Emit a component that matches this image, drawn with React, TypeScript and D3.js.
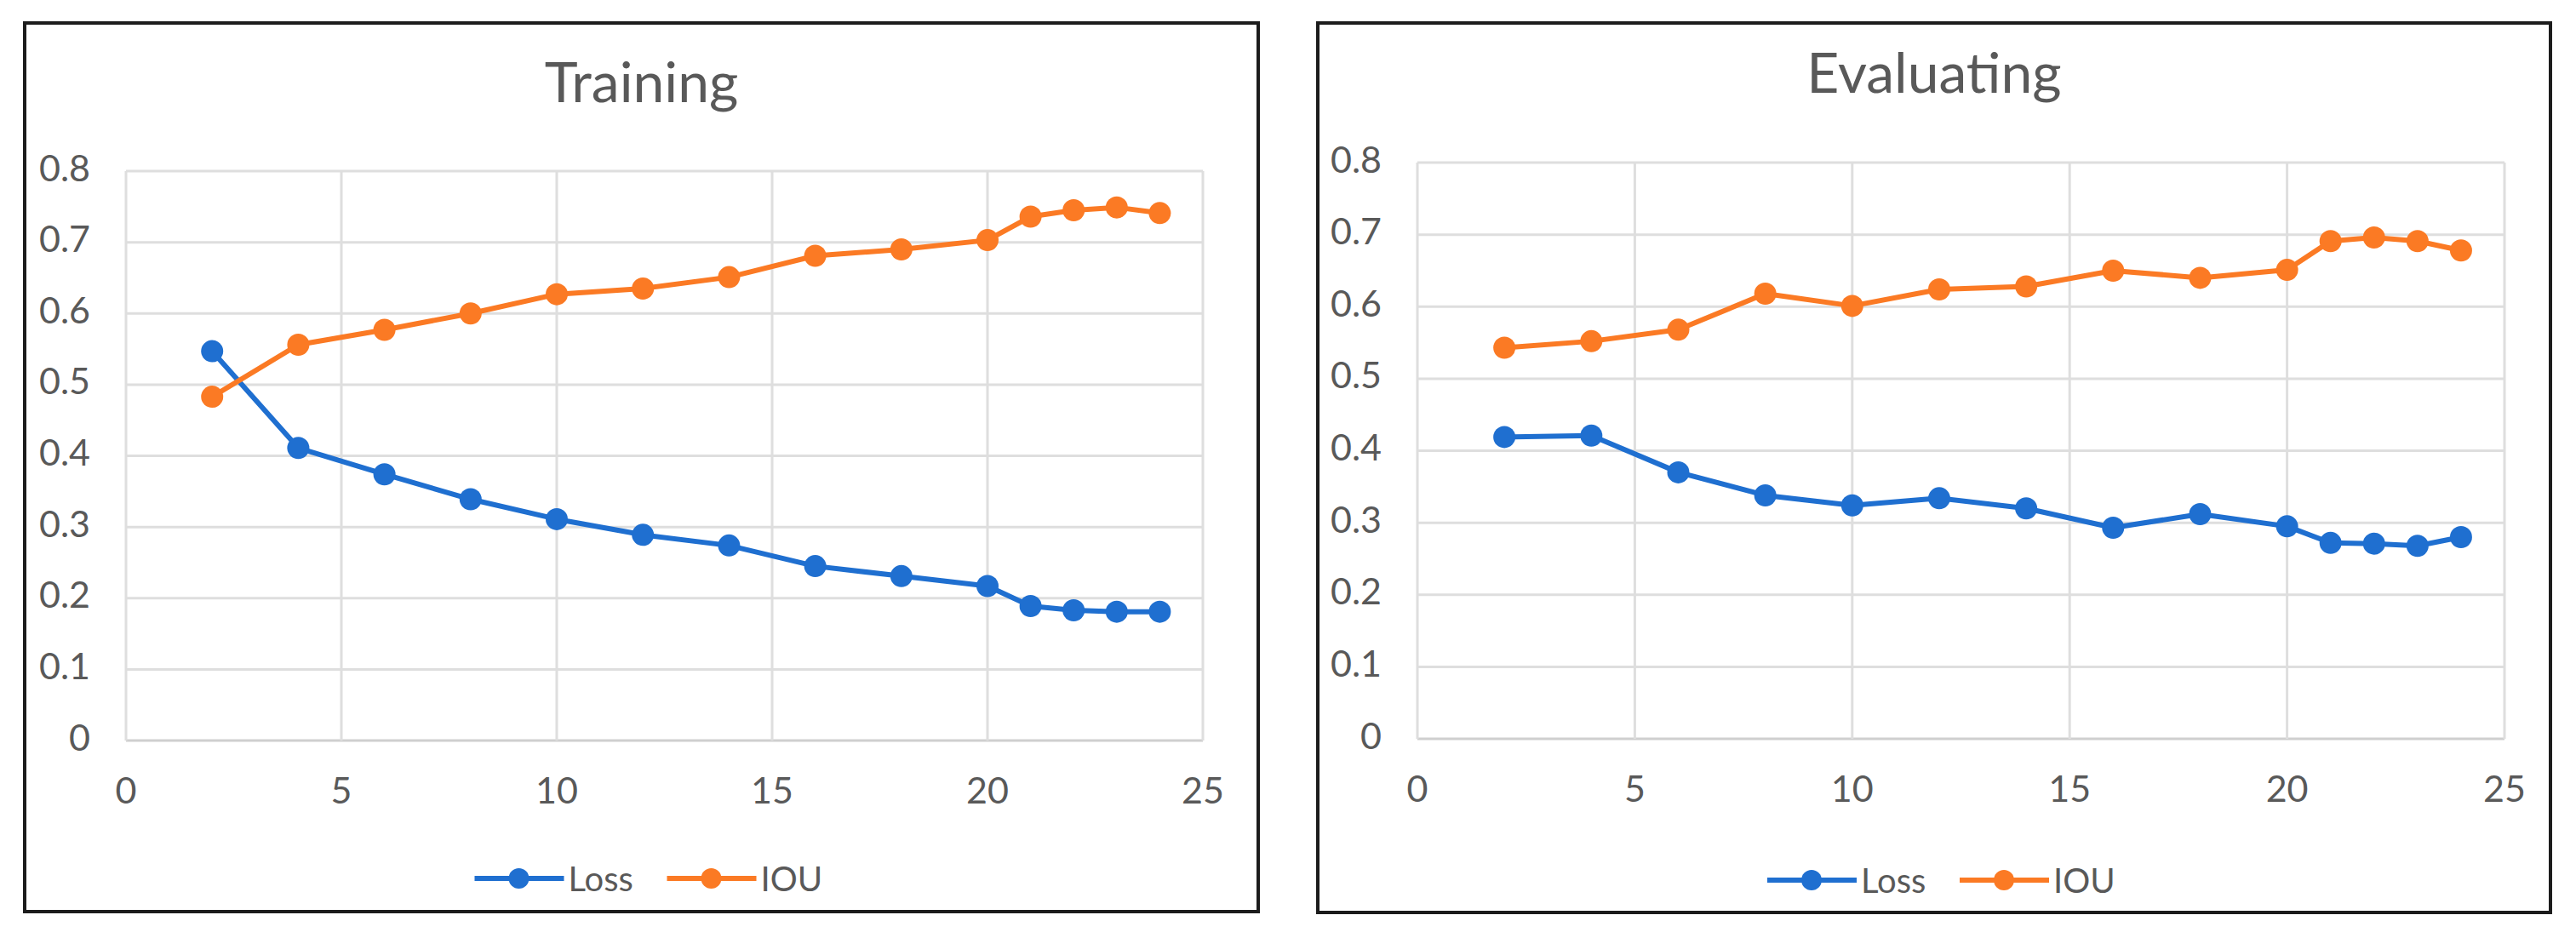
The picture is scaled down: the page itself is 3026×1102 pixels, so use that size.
import * as d3 from "d3";
import { useEffect, useRef } from "react";

const epochs = [2, 4, 6, 8, 10, 12, 14, 16, 18, 20, 21, 22, 23, 24];

const trainLoss = [0.547, 0.411, 0.374, 0.339, 0.311, 0.289, 0.274, 0.245, 0.231, 0.217, 0.189, 0.183, 0.181, 0.181];
const trainIou = [0.483, 0.556, 0.577, 0.6, 0.627, 0.635, 0.651, 0.681, 0.69, 0.703, 0.736, 0.745, 0.749, 0.741];

const evalLoss = [0.419, 0.421, 0.37, 0.338, 0.324, 0.334, 0.32, 0.293, 0.312, 0.295, 0.272, 0.271, 0.268, 0.28];
const evalIou = [0.543, 0.552, 0.568, 0.618, 0.601, 0.624, 0.628, 0.65, 0.64, 0.651, 0.691, 0.696, 0.691, 0.678];

const xTicks = [0, 5, 10, 15, 20, 25];
const yTicks = [0, 0.1, 0.2, 0.3, 0.4, 0.5, 0.6, 0.7, 0.8];

const seriesNames = ["Loss", "IOU"];
const colors = ["#1f6fd0", "#fb7a24"];

const FONT = "Lato, 'Open Sans', sans-serif";
const TEXT = "#595959";

type Box = { x0: number; y0: number; x1: number; y1: number };

type PanelProps = {
  title: string;
  loss: number[];
  iou: number[];
  frame: Box;
  plot: Box;
  titleY: number;
  legendY: number;
};

const Panel: React.FC<PanelProps> = ({ title, loss, iou, frame, plot, titleY, legendY }) => {
  const ref = useRef<SVGGElement | null>(null);

  useEffect(() => {
    if (!ref.current) return;
    const g = d3.select(ref.current);
    g.selectAll("*").remove();

    const x = d3.scaleLinear().domain([0, 25]).range([plot.x0, plot.x1]);
    const y = d3.scaleLinear().domain([0, 0.8]).range([plot.y1, plot.y0]);

    // outer frame
    g.append("rect")
      .attr("x", frame.x0)
      .attr("y", frame.y0)
      .attr("width", frame.x1 - frame.x0)
      .attr("height", frame.y1 - frame.y0)
      .attr("fill", "#fff")
      .attr("stroke", "#1c1c1c")
      .attr("stroke-width", 4);

    const cx = (frame.x0 + frame.x1) / 2;

    g.append("text")
      .attr("x", cx)
      .attr("y", titleY)
      .attr("text-anchor", "middle")
      .attr("font-family", FONT)
      .attr("font-size", 66)
      .attr("fill", TEXT)
      .text(title);

    // grid
    g.append("g")
      .selectAll("line")
      .data(yTicks)
      .join("line")
      .attr("x1", plot.x0)
      .attr("x2", plot.x1)
      .attr("y1", (d) => y(d))
      .attr("y2", (d) => y(d))
      .attr("stroke", (d) => (d === 0 ? "#cfcfcf" : "#dedede"))
      .attr("stroke-width", 3);

    g.append("g")
      .selectAll("line")
      .data(xTicks)
      .join("line")
      .attr("x1", (d) => x(d))
      .attr("x2", (d) => x(d))
      .attr("y1", plot.y0)
      .attr("y2", plot.y1)
      .attr("stroke", "#dedede")
      .attr("stroke-width", 3);

    // tick labels
    g.append("g")
      .selectAll("text")
      .data(yTicks)
      .join("text")
      .attr("x", plot.x0 - 42)
      .attr("y", (d) => y(d) - 5)
      .attr("dominant-baseline", "central")
      .attr("text-anchor", "end")
      .attr("font-family", FONT)
      .attr("font-size", 43)
      .attr("fill", TEXT)
      .text((d) => d3.format("")(+d.toFixed(1)));

    g.append("g")
      .selectAll("text")
      .data(xTicks)
      .join("text")
      .attr("x", (d) => x(d))
      .attr("y", plot.y1 + 57)
      .attr("dominant-baseline", "central")
      .attr("text-anchor", "middle")
      .attr("font-family", FONT)
      .attr("font-size", 43)
      .attr("fill", TEXT)
      .text((d) => String(d));

    const line = d3
      .line<number>()
      .x((_, i) => x(epochs[i]))
      .y((d) => y(d));

    [loss, iou].forEach((vals, k) => {
      const s = g.append("g");
      s.append("path")
        .attr("d", line(vals) ?? "")
        .attr("fill", "none")
        .attr("stroke", colors[k])
        .attr("stroke-width", 6)
        .attr("stroke-linejoin", "round");
      s.selectAll("circle")
        .data(vals)
        .join("circle")
        .attr("cx", (_, i) => x(epochs[i]))
        .attr("cy", (d) => y(d))
        .attr("r", 13)
        .attr("fill", colors[k]);
    });

    // legend
    const legend = g.append("g");
    const lx = cx - 196;
    seriesNames.forEach((name, k) => {
      const ox = lx + k * 226;
      legend
        .append("line")
        .attr("x1", ox)
        .attr("x2", ox + 105)
        .attr("y1", legendY)
        .attr("y2", legendY)
        .attr("stroke", colors[k])
        .attr("stroke-width", 6);
      legend
        .append("circle")
        .attr("cx", ox + 52)
        .attr("cy", legendY)
        .attr("r", 12)
        .attr("fill", colors[k]);
      legend
        .append("text")
        .attr("x", ox + 110)
        .attr("y", legendY)
        .attr("dominant-baseline", "central")
        .attr("font-family", FONT)
        .attr("font-size", 40)
        .attr("fill", TEXT)
        .text(name);
    });
  }, [title, loss, iou, frame, plot, titleY, legendY]);

  return <g ref={ref} />;
};

const App: React.FC = () => {
  return (
    <svg
      width={3026}
      height={1102}
      style={{ position: "absolute", left: 0, top: 0, background: "#fff" }}
    >
      <rect width={3026} height={1102} fill="#fff" />
      <Panel
        title="Training"
        loss={trainLoss}
        iou={trainIou}
        frame={{ x0: 29, y0: 27, x1: 1478, y1: 1071 }}
        plot={{ x0: 148, y0: 201, x1: 1413, y1: 870 }}
        titleY={120}
        legendY={1032}
      />
      <Panel
        title="Evaluating"
        loss={evalLoss}
        iou={evalIou}
        frame={{ x0: 1548, y0: 27, x1: 2996, y1: 1072 }}
        plot={{ x0: 1665, y0: 191, x1: 2942, y1: 868 }}
        titleY={109}
        legendY={1034}
      />
    </svg>
  );
};

export default App;
